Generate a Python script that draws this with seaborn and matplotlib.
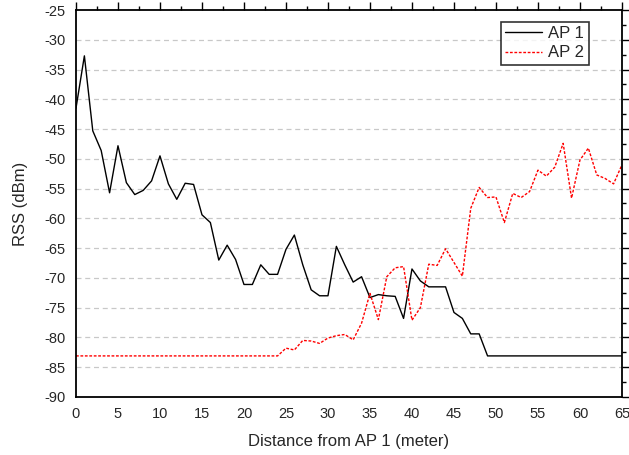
import matplotlib
matplotlib.use("Agg")
import matplotlib.pyplot as plt
from matplotlib.ticker import MultipleLocator
import numpy as np
import pandas as pd
import seaborn as sns

# distance from AP 1 in meters, one sample per meter
distance = list(range(0, 66))

rss_ap1 = [-41.5, -32.7, -45.3, -48.6, -55.7, -47.8, -54.0, -56.0, -55.3, -53.7,
           -49.5, -54.2, -56.8, -54.1, -54.3, -59.4, -60.7, -67.0, -64.5, -66.9,
           -71.1, -71.1, -67.8, -69.4, -69.4, -65.2, -62.8, -67.8, -72.0, -73.0,
           -73.0, -64.7, -67.8, -70.7, -69.8, -73.3, -72.8, -73.0, -73.1, -76.8,
           -68.5, -70.5, -71.5, -71.5, -71.5, -75.8, -76.8, -79.4, -79.4, -83.1,
           -83.1, -83.1, -83.1, -83.1, -83.1, -83.1, -83.1, -83.1, -83.1, -83.1,
           -83.1, -83.1, -83.1, -83.1, -83.1, -83.1]

rss_ap2 = [-83.1] * 25 + [
           -81.8, -82.1, -80.5, -80.6, -81.0, -80.1, -79.7, -79.5, -80.4, -77.6,
           -72.6, -77.0, -69.8, -68.3, -68.1, -77.1, -75.0, -67.7, -67.9, -65.1,
           -67.4, -69.7, -58.3, -54.8, -56.5, -56.4, -60.7, -55.8, -56.5, -55.5,
           -51.9, -52.9, -51.4, -47.4, -56.6, -50.2, -48.2, -52.7, -53.3, -54.2,
           -51.0]

df = pd.DataFrame({"distance": distance, "AP 1": rss_ap1, "AP 2": rss_ap2})

sns.set_style("white")
plt.rcParams['font.family'] = ['Liberation Sans', 'DejaVu Sans']
plt.rcParams['axes.unicode_minus'] = False

fig = plt.figure(figsize=(6.29, 4.55), dpi=100)
ax = fig.add_axes([0.1208, 0.1275, 0.8680, 0.8505])

sns.lineplot(data=df, x="distance", y="AP 1", ax=ax, color="black",
             linewidth=1.0, label="AP 1")
sns.lineplot(data=df, x="distance", y="AP 2", ax=ax, color="red",
             linewidth=1.0, label="AP 2")
ax.lines[1].set_dashes([2, 1.2])

ax.set_xlim(0, 65)
ax.set_ylim(-90, -25)
ax.xaxis.set_major_locator(MultipleLocator(5))
ax.xaxis.set_minor_locator(MultipleLocator(2.5))
ax.yaxis.set_major_locator(MultipleLocator(5))
ax.yaxis.set_minor_locator(MultipleLocator(2.5))

ax.tick_params(which="both", direction="out", top=True, right=True,
               labeltop=False, labelright=False, color="black", width=1.0)
ax.tick_params(which="major", length=5.5, labelsize=10.5, pad=2)
ax.tick_params(which="minor", length=3.2)

for s in ax.spines.values():
    s.set_color("black")
    s.set_linewidth(1.3)

ax.grid(False)
for v in range(-85, -25, 5):
    ax.axhline(v, color="#c8c8c8", linestyle=(0, (4, 3)), linewidth=0.9, zorder=0)

ax.set_xlabel("Distance from AP 1 (meter)", fontsize=12, labelpad=9)
ax.set_ylabel("RSS (dBm)", fontsize=12, labelpad=12)

leg = ax.legend(loc="upper right", bbox_to_anchor=(0.939, 0.969), fontsize=12,
                frameon=True, fancybox=False, handlelength=2.2, handletextpad=0.4,
                borderpad=0.25, labelspacing=0.25, borderaxespad=0)
leg.get_frame().set_edgecolor("black")
leg.get_frame().set_linewidth(1.2)

fig.savefig("out.png", dpi=100)
